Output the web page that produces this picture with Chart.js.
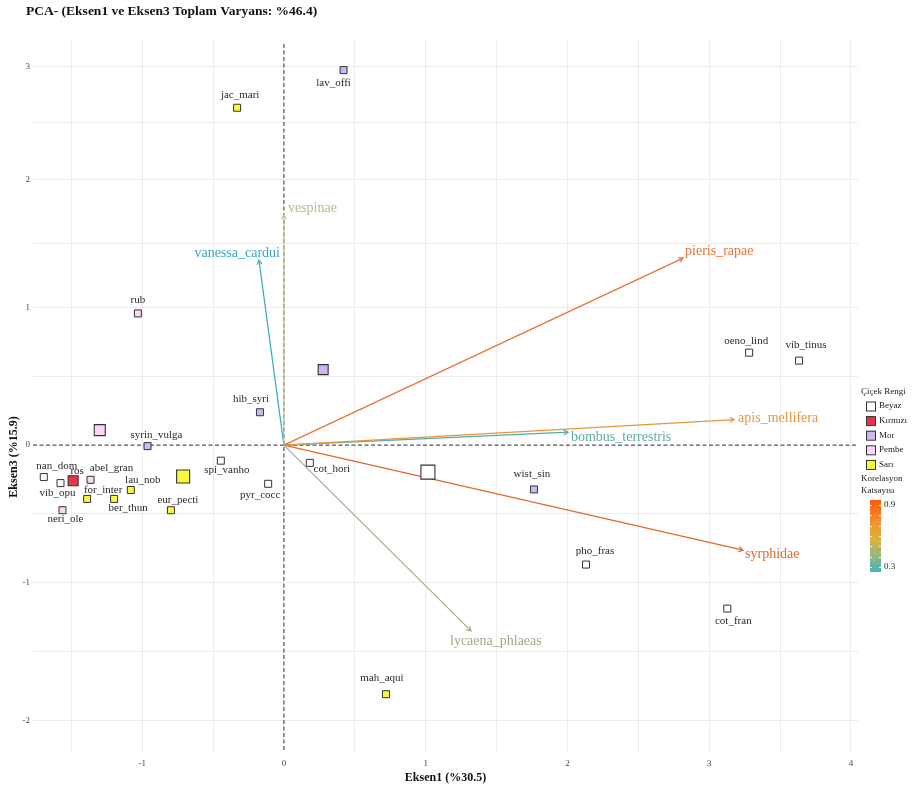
<!DOCTYPE html>
<html>
<head>
<meta charset="utf-8">
<script src="https://cdn.jsdelivr.net/npm/chart.js@4.4.1/dist/chart.umd.min.js"></script>
<style>
  html, body { margin: 0; padding: 0; background: #ffffff; }
  #wrap { width: 914px; height: 791px; position: relative; }
</style>
</head>
<body>
<div id="wrap"><canvas id="pca" width="914" height="791"></canvas></div>
<script>
// ---- Flower species scores on PCA axes 1 and 3 ----
const flowerNames = ['lav_offi','jac_mari','rub','hib_syri','syrin_vulga','nan_dom','ros','vib_opu',
  'abel_gran','lau_nob','for_inter','ber_thun','neri_ole','eur_pecti','spi_vanho','pyr_cocc',
  'cot_hori','wist_sin','oeno_lind','vib_tinus','pho_fras','cot_fran','mah_aqui'];
const flowerColour = ['Mor','Sarı','Pembe','Mor','Mor','Beyaz','Kırmızı','Beyaz',
  'Pembe','Sarı','Sarı','Sarı','Pembe','Sarı','Beyaz','Beyaz',
  'Beyaz','Mor','Beyaz','Beyaz','Beyaz','Beyaz','Sarı'];
const axis1Scores = [0.421,-0.330,-1.030,-0.169,-0.962,-1.694,-1.487,-1.576,
  -1.364,-1.080,-1.388,-1.198,-1.562,-0.797,-0.445,-0.111,
  0.183,1.764,3.282,3.634,2.131,3.128,0.720];
const axis3Scores = [2.965,2.634,0.957,0.239,-0.007,-0.232,-0.259,-0.276,
  -0.252,-0.326,-0.391,-0.391,-0.473,-0.473,-0.113,-0.281,
  -0.129,-0.322,0.672,0.614,-0.868,-1.188,-1.810];

// ---- Colour group centroids ----
const centroidGroups = ['Beyaz','Kırmızı','Mor','Pembe','Sarı'];
const centroidAxis1 = [1.016,-1.487,0.277,-1.299,-0.711];
const centroidAxis3 = [-0.196,-0.259,0.549,0.109,-0.228];

// ---- Pollinator loadings (arrows) ----
const pollinatorNames = ['vespinae','vanessa_cardui','pieris_rapae','apis_mellifera',
  'bombus_terrestris','syrphidae','lycaena_phlaeas'];
const loadingAxis1 = [0.0,-0.176,2.816,3.176,2.004,3.239,1.320];
const loadingAxis3 = [1.727,1.371,1.387,0.186,0.094,-0.763,-1.350];

// ---- Legend / tick labels ----
const legendGroups = ['Beyaz','Kırmızı','Mor','Pembe','Sarı'];
const corrTickLabels = ['0.9','0.3'];
const chartTitle = 'PCA- (Eksen1 ve Eksen3 Toplam Varyans: %46.4)';
const xTitle = 'Eksen1 (%30.5)';
const yTitle = 'Eksen3 (%15.9)';

// ---- Styles ----
const groupFill = { 'Beyaz': '#ffffff', 'Kırmızı': '#e8334d', 'Mor': '#cdb6f4', 'Pembe': '#fdd5f5', 'Sarı': '#fbf83a' };
const centroidSide = { 'Beyaz': 14, 'Kırmızı': 10, 'Mor': 10, 'Pembe': 11, 'Sarı': 13 };
const pointSide = 7;
const arrowColours = ['#c3c39a','#35a9c0','#e8733a','#e8953c','#5aaaa2','#e2692f','#a8a88f'];
const arrowLabelColours = ['#b9b98c','#35a9c0','#e8733a','#e8953c','#62aca6','#e2692f','#a6a68d'];
// label anchor relative to the arrow tip: [dx, dy, align]
const arrowLabelPlacement = [[4,-6,'left'],[21,-7,'right'],[2,-7,'left'],[4,-1,'left'],[3,5,'left'],[2,4,'left'],[-21,10,'left']];
// label centre relative to the flower marker
const flowerLabelOffset = [[-10,13],[3,-13],[0,-13],[-9,-13],[9,-11],[13,-11],[4,-10],[-3,10],
  [21,-12],[12,-10],[16,-9],[14,9],[3,9],[7,-10],[6,9],[-8,11],
  [22,6],[-2,-15],[-3,-12],[7,-16],[9,-13],[6,13],[-4,-16]];

const SERIF = "'Liberation Serif', 'DejaVu Serif', serif";

// Linear scale whose unit length shrinks above given values (axis 3 spacing)
class BandedLinearScale extends Chart.LinearScale {
  _warp(v) {
    const starts = this.options.bandStarts || [];
    const factors = this.options.bandFactors || [];
    if (!starts.length || v <= starts[0]) return v;
    let pos = starts[0];
    for (let i = 0; i < starts.length; i++) {
      const end = i + 1 < starts.length ? starts[i + 1] : Infinity;
      if (v <= end) return pos + (v - starts[i]) * factors[i];
      pos += (end - starts[i]) * factors[i];
    }
    return pos;
  }
  _unwarp(w) {
    const starts = this.options.bandStarts || [];
    const factors = this.options.bandFactors || [];
    if (!starts.length || w <= starts[0]) return w;
    let pos = starts[0];
    for (let i = 0; i < starts.length; i++) {
      const end = i + 1 < starts.length ? starts[i + 1] : Infinity;
      const span = (end - starts[i]) * factors[i];
      if (w <= pos + span) return starts[i] + (w - pos) / factors[i];
      pos += span;
    }
    return w;
  }
  getPixelForValue(value) {
    if (value === null || value === undefined || isNaN(value)) return NaN;
    const a = this._warp(this.min), z = this._warp(this.max);
    return this.getPixelForDecimal((this._warp(value) - a) / (z - a));
  }
  getValueForPixel(pixel) {
    const a = this._warp(this.min), z = this._warp(this.max);
    return this._unwarp(a + this.getDecimalForPixel(pixel) * (z - a));
  }
}
BandedLinearScale.id = 'bandedLinear';
BandedLinearScale.defaults = Chart.LinearScale.defaults;
Chart.register(BandedLinearScale);

function sq(side) { return side / (2 * Math.SQRT1_2); }

const datasets = [];

// centroids (top layer)
datasets.push({
  label: 'centroid',
  order: 0,
  data: centroidGroups.map((g, i) => ({ x: centroidAxis1[i], y: centroidAxis3[i] })),
  pointStyle: 'rect',
  pointRadius: centroidGroups.map(g => sq(centroidSide[g])),
  backgroundColor: centroidGroups.map(g => groupFill[g]),
  borderColor: '#333333',
  borderWidth: 1.1
});

// flower points, one dataset per colour group
legendGroups.forEach(g => {
  const idx = flowerNames.map((n, i) => i).filter(i => flowerColour[i] === g);
  datasets.push({
    label: g,
    order: 1,
    data: idx.map(i => ({ x: axis1Scores[i], y: axis3Scores[i] })),
    pointStyle: 'rect',
    pointRadius: sq(pointSide),
    backgroundColor: groupFill[g],
    borderColor: '#333333',
    borderWidth: 1
  });
});

// pollinator arrows
pollinatorNames.forEach((p, i) => {
  datasets.push({
    label: p,
    order: 2,
    showLine: true,
    data: [{ x: 0, y: 0 }, { x: loadingAxis1[i], y: loadingAxis3[i] }],
    borderColor: arrowColours[i],
    borderWidth: 1.2,
    pointRadius: 0,
    fill: false
  });
});

const overlay = {
  id: 'pcaOverlay',
  beforeDatasetsDraw(chart) {
    const { ctx, chartArea: ca, scales } = chart;
    const x0 = scales.x.getPixelForValue(0);
    const y0 = scales.y.getPixelForValue(0);
    ctx.save();
    ctx.strokeStyle = '#2b2b2b';
    ctx.lineWidth = 1;
    ctx.setLineDash([4, 2.5]);
    ctx.beginPath();
    ctx.moveTo(ca.left, y0); ctx.lineTo(ca.right, y0);
    ctx.moveTo(x0, ca.top + 4); ctx.lineTo(x0, ca.bottom);
    ctx.stroke();
    ctx.restore();
  },
  afterDatasetsDraw(chart) {
    const { ctx, scales } = chart;
    const xs = scales.x, ys = scales.y;
    ctx.save();
    // arrowheads and pollinator labels
    pollinatorNames.forEach((p, i) => {
      const tx = xs.getPixelForValue(loadingAxis1[i]);
      const ty = ys.getPixelForValue(loadingAxis3[i]);
      const ox = xs.getPixelForValue(0), oy = ys.getPixelForValue(0);
      const ang = Math.atan2(ty - oy, tx - ox);
      const len = 5, spread = Math.PI / 6;
      ctx.strokeStyle = arrowColours[i];
      ctx.lineWidth = 1.2;
      ctx.setLineDash([]);
      ctx.beginPath();
      ctx.moveTo(tx - len * Math.cos(ang - spread), ty - len * Math.sin(ang - spread));
      ctx.lineTo(tx, ty);
      ctx.lineTo(tx - len * Math.cos(ang + spread), ty - len * Math.sin(ang + spread));
      ctx.stroke();
      const pl = arrowLabelPlacement[i];
      ctx.font = `14px ${SERIF}`;
      ctx.fillStyle = arrowLabelColours[i];
      ctx.textAlign = pl[2];
      ctx.textBaseline = 'middle';
      ctx.fillText(p, tx + pl[0], ty + pl[1]);
    });
    // flower labels
    ctx.font = `11px ${SERIF}`;
    ctx.fillStyle = '#2a2a2a';
    ctx.textAlign = 'center';
    ctx.textBaseline = 'middle';
    flowerNames.forEach((n, i) => {
      const px = xs.getPixelForValue(axis1Scores[i]);
      const py = ys.getPixelForValue(axis3Scores[i]);
      const off = flowerLabelOffset[i];
      ctx.fillText(n, px + off[0], py + off[1]);
    });
    ctx.restore();
  },
  afterDraw(chart) {
    const { ctx, chartArea: ca } = chart;
    ctx.save();
    // title
    ctx.fillStyle = '#111111';
    ctx.font = `bold 13.5px ${SERIF}`;
    ctx.textAlign = 'left';
    ctx.textBaseline = 'middle';
    ctx.fillText(chartTitle, 26, 12);
    // axis titles
    ctx.font = `bold 12px ${SERIF}`;
    ctx.textAlign = 'center';
    ctx.fillText(xTitle, (ca.left + ca.right) / 2, 778);
    ctx.save();
    ctx.translate(14, 457);
    ctx.rotate(-Math.PI / 2);
    ctx.fillText(yTitle, 0, 0);
    ctx.restore();

    // legend: flower colour
    ctx.font = `9px ${SERIF}`;
    ctx.fillStyle = '#222222';
    ctx.textAlign = 'left';
    ctx.fillText('Çiçek Rengi', 861, 392);
    legendGroups.forEach((g, i) => {
      const cy = 406 + i * 14.6;
      ctx.fillStyle = groupFill[g];
      ctx.fillRect(866, cy - 4.5, 9, 9);
      ctx.strokeStyle = '#333333';
      ctx.lineWidth = 1;
      ctx.strokeRect(866.5, cy - 4, 9, 9);
      ctx.fillStyle = '#222222';
      ctx.fillText(g, 879, cy);
    });
    // legend: correlation colour bar
    ctx.fillText('Korelasyon', 861, 479);
    ctx.fillText('Katsayısı', 861, 491);
    const bx = 870, bt = 500, bw = 11, bb = 572;
    const grad = ctx.createLinearGradient(0, bb, 0, bt);
    grad.addColorStop(0, '#3fb5bb');
    grad.addColorStop(0.2, '#8db88a');
    grad.addColorStop(0.45, '#dcb43a');
    grad.addColorStop(0.7, '#f3902a');
    grad.addColorStop(1, '#fb5a10');
    ctx.fillStyle = grad;
    ctx.fillRect(bx, bt, bw, bb - bt);
    // white tick marks every 0.1 between 0.3 and 0.9
    const yHi = 505, yLo = 567;
    ctx.strokeStyle = 'rgba(255,255,255,0.85)';
    ctx.lineWidth = 1;
    for (let k = 0; k <= 6; k++) {
      const y = Math.round(yLo + (yHi - yLo) * k / 6) + 0.5;
      ctx.beginPath();
      ctx.moveTo(bx, y); ctx.lineTo(bx + 2, y);
      ctx.moveTo(bx + bw - 2, y); ctx.lineTo(bx + bw, y);
      ctx.stroke();
    }
    ctx.fillStyle = '#222222';
    ctx.fillText(corrTickLabels[0], 884, yHi);
    ctx.fillText(corrTickLabels[1], 884, yLo);
    ctx.restore();
  }
};

const gridColour = (c) => {
  const v = c.tick ? c.tick.value : 0;
  if (Math.abs(v * 2 - Math.round(v * 2)) > 1e-6) return 'rgba(0,0,0,0)';
  if (Math.abs(v) < 1e-9) return 'rgba(0,0,0,0)';
  return '#ececec';
};
const intLabel = (v) => (Math.abs(v - Math.round(v)) < 1e-9 ? String(Math.round(v)) : '');

new Chart(document.getElementById('pca'), {
  type: 'scatter',
  data: { datasets },
  options: {
    responsive: false,
    animation: false,
    devicePixelRatio: 1,
    layout: { padding: { left: 0, top: 40, right: 56, bottom: 0 } },
    plugins: { legend: { display: false }, tooltip: { enabled: false }, title: { display: false } },
    scales: {
      x: {
        type: 'linear',
        min: -1.77,
        max: 4.05,
        afterFit: (s) => { s.height = 39; },
        border: { display: false },
        grid: { color: gridColour, lineWidth: 1, drawTicks: false },
        ticks: {
          stepSize: 0.5, autoSkip: false, maxRotation: 0, padding: 6, includeBounds: false,
          color: '#4a4a4a', font: { family: SERIF, size: 9 },
          callback: intLabel
        }
      },
      y: {
        type: 'bandedLinear',
        min: -2.23,
        max: 3.23,
        bandStarts: [1, 2],
        bandFactors: [0.928, 0.826],
        afterFit: (s) => { s.width = 33; },
        border: { display: false },
        grid: { color: gridColour, lineWidth: 1, drawTicks: false },
        ticks: {
          stepSize: 0.5, autoSkip: false, padding: 3, includeBounds: false,
          color: '#4a4a4a', font: { family: SERIF, size: 9 },
          callback: intLabel
        }
      }
    }
  },
  plugins: [overlay]
});
</script>
</body>
</html>
